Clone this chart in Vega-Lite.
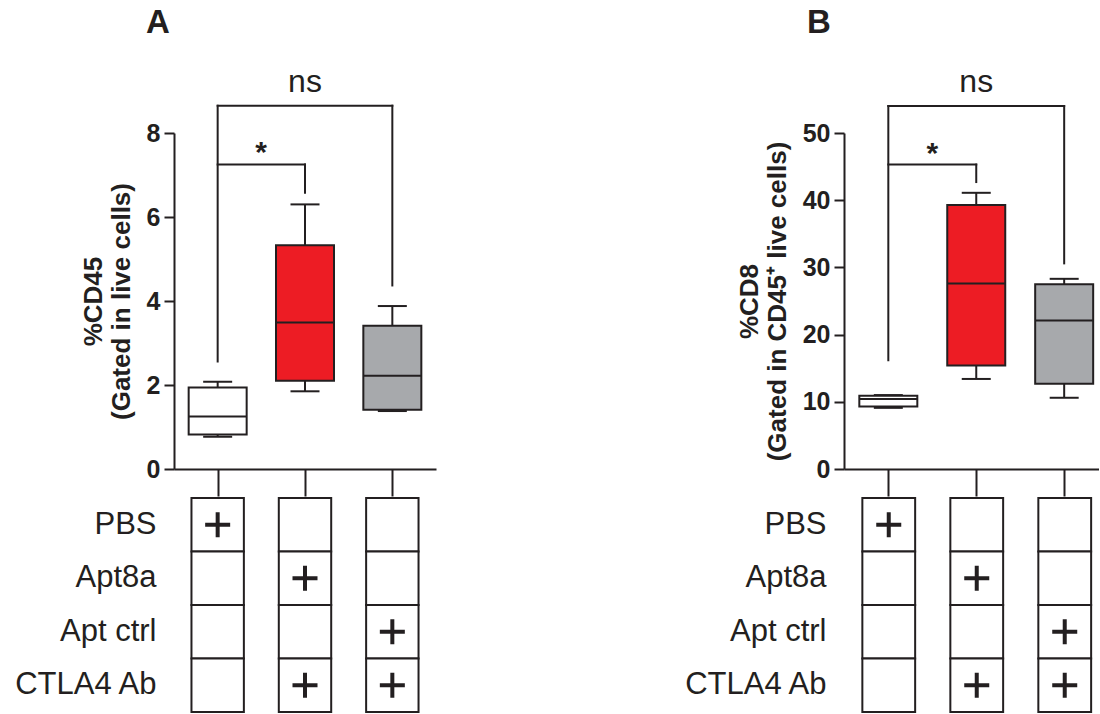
{
  "$schema": "https://vega.github.io/schema/vega-lite/v6.json",
  "padding": {"left": 12, "top": 6, "right": 0, "bottom": 0},
  "config": {
    "view": {"stroke": null},
    "font": "Liberation Sans",
    "tick": {"opacity": 1},
    "axis": {"grid": false, "domainColor": "#231f20", "tickColor": "#231f20", "labelColor": "#231f20", "titleColor": "#231f20", "labelFont": "Liberation Sans", "titleFont": "Liberation Sans"},
    "title": {"font": "Liberation Sans", "color": "#231f20"}
  },
  "datasets": {
    "boxA": [
      {"group": "PBS", "min": 0.77, "q1": 0.82, "med": 1.25, "q3": 1.94, "max": 2.08},
      {"group": "Apt8a", "min": 1.85, "q1": 2.10, "med": 3.49, "q3": 5.33, "max": 6.30},
      {"group": "Apt ctrl", "min": 1.38, "q1": 1.41, "med": 2.22, "q3": 3.41, "max": 3.88}
    ],
    "boxB": [
      {"group": "PBS", "min": 9.1, "q1": 9.3, "med": 10.4, "q3": 10.9, "max": 11.0},
      {"group": "Apt8a", "min": 13.4, "q1": 15.4, "med": 27.6, "q3": 39.3, "max": 41.1},
      {"group": "Apt ctrl", "min": 10.6, "q1": 12.7, "med": 22.1, "q3": 27.5, "max": 28.3}
    ],
    "hA": [
      {"a": "PBS", "b": "Apt ctrl", "y": 8.65},
      {"a": "PBS", "b": "Apt8a", "y": 7.25}
    ],
    "vA": [
      {"a": "PBS", "y": 8.65, "y2": 2.56},
      {"a": "Apt ctrl", "y": 8.65, "y2": 4.37},
      {"a": "Apt8a", "y": 7.25, "y2": 6.58}
    ],
    "nsA": [{"a": "Apt8a", "y": 8.98, "label": "ns"}],
    "starA": [{"a": "PBS", "y": 7.3, "label": "*"}],
    "hB": [
      {"a": "PBS", "b": "Apt ctrl", "y": 54.0},
      {"a": "PBS", "b": "Apt8a", "y": 45.3}
    ],
    "vB": [
      {"a": "PBS", "y": 54.0, "y2": 16.2},
      {"a": "Apt ctrl", "y": 54.0, "y2": 30.6},
      {"a": "Apt8a", "y": 45.3, "y2": 42.7}
    ],
    "nsB": [{"a": "Apt8a", "y": 56.1, "label": "ns"}],
    "starB": [{"a": "PBS", "y": 45.6, "label": "*"}],
    "table": [
      {"group": "PBS", "treat": "PBS", "on": 1},
      {"group": "PBS", "treat": "Apt8a", "on": 0},
      {"group": "PBS", "treat": "Apt ctrl", "on": 0},
      {"group": "PBS", "treat": "CTLA4 Ab", "on": 0},
      {"group": "Apt8a", "treat": "PBS", "on": 0},
      {"group": "Apt8a", "treat": "Apt8a", "on": 1},
      {"group": "Apt8a", "treat": "Apt ctrl", "on": 0},
      {"group": "Apt8a", "treat": "CTLA4 Ab", "on": 1},
      {"group": "Apt ctrl", "treat": "PBS", "on": 0},
      {"group": "Apt ctrl", "treat": "Apt8a", "on": 0},
      {"group": "Apt ctrl", "treat": "Apt ctrl", "on": 1},
      {"group": "Apt ctrl", "treat": "CTLA4 Ab", "on": 1}
    ]
  },
  "spacing": 246,
  "hconcat": [
    {
      "spacing": 0,
      "vconcat": [
        {
          "title": {"text": "A", "anchor": "start", "frame": "group", "dx": -28, "fontSize": 33, "fontWeight": "bold", "offset": 26},
          "width": 262,
          "height": 336,
          "layer": [
            {
              "data": {"name": "boxA"},
              "mark": {"type": "rule", "strokeWidth": 2, "color": "#231f20"},
              "encoding": {
                "x": {"field": "group", "type": "nominal", "scale": {"type": "point", "padding": 0.5, "domain": ["PBS", "Apt8a", "Apt ctrl"]},
                      "axis": {"orient": "bottom", "labels": false, "ticks": true, "tickSize": 27, "tickWidth": 2, "domainWidth": 2, "title": null}},
                "y": {"field": "min", "type": "quantitative", "scale": {"domain": [0, 8], "nice": false, "zero": true},
                      "axis": {"values": [0, 2, 4, 6, 8], "tickSize": 10, "tickWidth": 2, "domainWidth": 2, "labelFontSize": 25, "labelFontWeight": "bold", "labelPadding": 4,
                               "title": ["%CD45", "(Gated in live cells)"], "titleFontSize": 26, "titleFontWeight": "bold", "titlePadding": 12, "titleLineHeight": 28}},
                "y2": {"field": "max"}
              }
            },
            {
              "data": {"name": "boxA"},
              "mark": {"type": "tick", "size": 29, "thickness": 2, "color": "#231f20", "opacity": 1},
              "encoding": {"x": {"field": "group", "type": "nominal"}, "y": {"field": "min", "type": "quantitative"}}
            },
            {
              "data": {"name": "boxA"},
              "mark": {"type": "tick", "size": 29, "thickness": 2, "color": "#231f20", "opacity": 1},
              "encoding": {"x": {"field": "group", "type": "nominal"}, "y": {"field": "max", "type": "quantitative"}}
            },
            {
              "data": {"name": "boxA"},
              "mark": {"type": "bar", "size": 58, "stroke": "#231f20", "strokeWidth": 2, "opacity": 1},
              "encoding": {
                "x": {"field": "group", "type": "nominal"},
                "y": {"field": "q1", "type": "quantitative"},
                "y2": {"field": "q3"},
                "fill": {"field": "group", "type": "nominal", "scale": {"domain": ["PBS", "Apt8a", "Apt ctrl"], "range": ["#ffffff", "#ed1c24", "#a7a9ac"]}, "legend": null}
              }
            },
            {
              "data": {"name": "boxA"},
              "mark": {"type": "tick", "size": 58, "thickness": 2, "color": "#231f20", "opacity": 1},
              "encoding": {"x": {"field": "group", "type": "nominal"}, "y": {"field": "med", "type": "quantitative"}}
            },
            {
              "data": {"name": "hA"},
              "mark": {"type": "rule", "strokeWidth": 2, "color": "#231f20", "strokeCap": "square"},
              "encoding": {"x": {"field": "a", "type": "nominal"}, "x2": {"field": "b"}, "y": {"field": "y", "type": "quantitative"}}
            },
            {
              "data": {"name": "vA"},
              "mark": {"type": "rule", "strokeWidth": 2, "color": "#231f20", "strokeCap": "square"},
              "encoding": {"x": {"field": "a", "type": "nominal"}, "y": {"field": "y", "type": "quantitative"}, "y2": {"field": "y2"}}
            },
            {
              "data": {"name": "nsA"},
              "mark": {"type": "text", "fontSize": 32, "baseline": "alphabetic", "align": "center", "color": "#231f20"},
              "encoding": {"x": {"field": "a", "type": "nominal"}, "y": {"field": "y", "type": "quantitative"}, "text": {"field": "label"}}
            },
            {
              "data": {"name": "starA"},
              "mark": {"type": "text", "fontSize": 30, "fontWeight": "bold", "baseline": "alphabetic", "align": "center", "dx": 43.5, "color": "#231f20"},
              "encoding": {"x": {"field": "a", "type": "nominal"}, "y": {"field": "y", "type": "quantitative"}, "text": {"field": "label"}}
            }
          ]
        },
        {
          "width": 262,
          "height": 214,
          "data": {"name": "table"},
          "layer": [
            {
              "mark": {"type": "rect", "fill": "#ffffff", "stroke": "#231f20", "strokeWidth": 2},
              "encoding": {
                "x": {"field": "group", "type": "nominal", "scale": {"type": "band", "domain": ["PBS", "Apt8a", "Apt ctrl"], "paddingInner": 0.4, "paddingOuter": 0.2}, "axis": null},
                "y": {"field": "treat", "type": "nominal", "scale": {"type": "band", "domain": ["PBS", "Apt8a", "Apt ctrl", "CTLA4 Ab"], "paddingInner": 0, "paddingOuter": 0},
                      "axis": {"orient": "left", "domain": false, "ticks": false, "tickSize": 0, "labelPadding": 18, "labelFontSize": 31, "labelFontWeight": "normal", "title": null}}
              }
            },
            {
              "transform": [{"filter": "datum.on == 1"}],
              "mark": {"type": "point", "shape": "M-1,0L1,0M0,-1L0,1", "size": 625, "filled": false, "stroke": "#231f20", "strokeWidth": 4, "opacity": 1},
              "encoding": {"x": {"field": "group", "type": "nominal"}, "y": {"field": "treat", "type": "nominal"}}
            }
          ]
        }
      ]
    },
    {
      "spacing": 0,
      "vconcat": [
        {
          "title": {"text": "B", "anchor": "start", "frame": "group", "dx": -37, "fontSize": 33, "fontWeight": "bold", "offset": 26},
          "width": 255,
          "height": 336,
          "layer": [
            {
              "data": {"name": "boxB"},
              "mark": {"type": "rule", "strokeWidth": 2, "color": "#231f20"},
              "encoding": {
                "x": {"field": "group", "type": "nominal", "scale": {"type": "point", "padding": 0.45, "align": 0.56, "domain": ["PBS", "Apt8a", "Apt ctrl"]},
                      "axis": {"orient": "bottom", "labels": false, "ticks": true, "tickSize": 27, "tickWidth": 2, "domainWidth": 2, "title": null}},
                "y": {"field": "min", "type": "quantitative", "scale": {"domain": [0, 50], "nice": false, "zero": true},
                      "axis": {"values": [0, 10, 20, 30, 40, 50], "tickSize": 10, "tickWidth": 2, "domainWidth": 2, "labelFontSize": 25, "labelFontWeight": "bold", "labelPadding": 4,
                               "title": ["%CD8", "(Gated in CD45⁺ live cells)"], "titleFontSize": 26, "titleFontWeight": "bold", "titlePadding": 12, "titleLineHeight": 28}},
                "y2": {"field": "max"}
              }
            },
            {
              "data": {"name": "boxB"},
              "mark": {"type": "tick", "size": 29, "thickness": 2, "color": "#231f20", "opacity": 1},
              "encoding": {"x": {"field": "group", "type": "nominal"}, "y": {"field": "min", "type": "quantitative"}}
            },
            {
              "data": {"name": "boxB"},
              "mark": {"type": "tick", "size": 29, "thickness": 2, "color": "#231f20", "opacity": 1},
              "encoding": {"x": {"field": "group", "type": "nominal"}, "y": {"field": "max", "type": "quantitative"}}
            },
            {
              "data": {"name": "boxB"},
              "mark": {"type": "bar", "size": 58, "stroke": "#231f20", "strokeWidth": 2, "opacity": 1},
              "encoding": {
                "x": {"field": "group", "type": "nominal"},
                "y": {"field": "q1", "type": "quantitative"},
                "y2": {"field": "q3"},
                "fill": {"field": "group", "type": "nominal", "scale": {"domain": ["PBS", "Apt8a", "Apt ctrl"], "range": ["#ffffff", "#ed1c24", "#a7a9ac"]}, "legend": null}
              }
            },
            {
              "data": {"name": "boxB"},
              "mark": {"type": "tick", "size": 58, "thickness": 2, "color": "#231f20", "opacity": 1},
              "encoding": {"x": {"field": "group", "type": "nominal"}, "y": {"field": "med", "type": "quantitative"}}
            },
            {
              "data": {"name": "hB"},
              "mark": {"type": "rule", "strokeWidth": 2, "color": "#231f20", "strokeCap": "square"},
              "encoding": {"x": {"field": "a", "type": "nominal"}, "x2": {"field": "b"}, "y": {"field": "y", "type": "quantitative"}}
            },
            {
              "data": {"name": "vB"},
              "mark": {"type": "rule", "strokeWidth": 2, "color": "#231f20", "strokeCap": "square"},
              "encoding": {"x": {"field": "a", "type": "nominal"}, "y": {"field": "y", "type": "quantitative"}, "y2": {"field": "y2"}}
            },
            {
              "data": {"name": "nsB"},
              "mark": {"type": "text", "fontSize": 32, "baseline": "alphabetic", "align": "center", "color": "#231f20"},
              "encoding": {"x": {"field": "a", "type": "nominal"}, "y": {"field": "y", "type": "quantitative"}, "text": {"field": "label"}}
            },
            {
              "data": {"name": "starB"},
              "mark": {"type": "text", "fontSize": 30, "fontWeight": "bold", "baseline": "alphabetic", "align": "center", "dx": 44, "color": "#231f20"},
              "encoding": {"x": {"field": "a", "type": "nominal"}, "y": {"field": "y", "type": "quantitative"}, "text": {"field": "label"}}
            }
          ]
        },
        {
          "width": 255,
          "height": 214,
          "data": {"name": "table"},
          "layer": [
            {
              "mark": {"type": "rect", "fill": "#ffffff", "stroke": "#231f20", "strokeWidth": 2},
              "encoding": {
                "x": {"field": "group", "type": "nominal", "scale": {"type": "band", "domain": ["PBS", "Apt8a", "Apt ctrl"], "paddingInner": 0.4, "paddingOuter": 0.149, "align": 0.7}, "axis": null},
                "y": {"field": "treat", "type": "nominal", "scale": {"type": "band", "domain": ["PBS", "Apt8a", "Apt ctrl", "CTLA4 Ab"], "paddingInner": 0, "paddingOuter": 0},
                      "axis": {"orient": "left", "domain": false, "ticks": false, "tickSize": 0, "labelPadding": 18, "labelFontSize": 31, "labelFontWeight": "normal", "title": null}}
              }
            },
            {
              "transform": [{"filter": "datum.on == 1"}],
              "mark": {"type": "point", "shape": "M-1,0L1,0M0,-1L0,1", "size": 625, "filled": false, "stroke": "#231f20", "strokeWidth": 4, "opacity": 1},
              "encoding": {"x": {"field": "group", "type": "nominal"}, "y": {"field": "treat", "type": "nominal"}}
            }
          ]
        }
      ]
    }
  ]
}
